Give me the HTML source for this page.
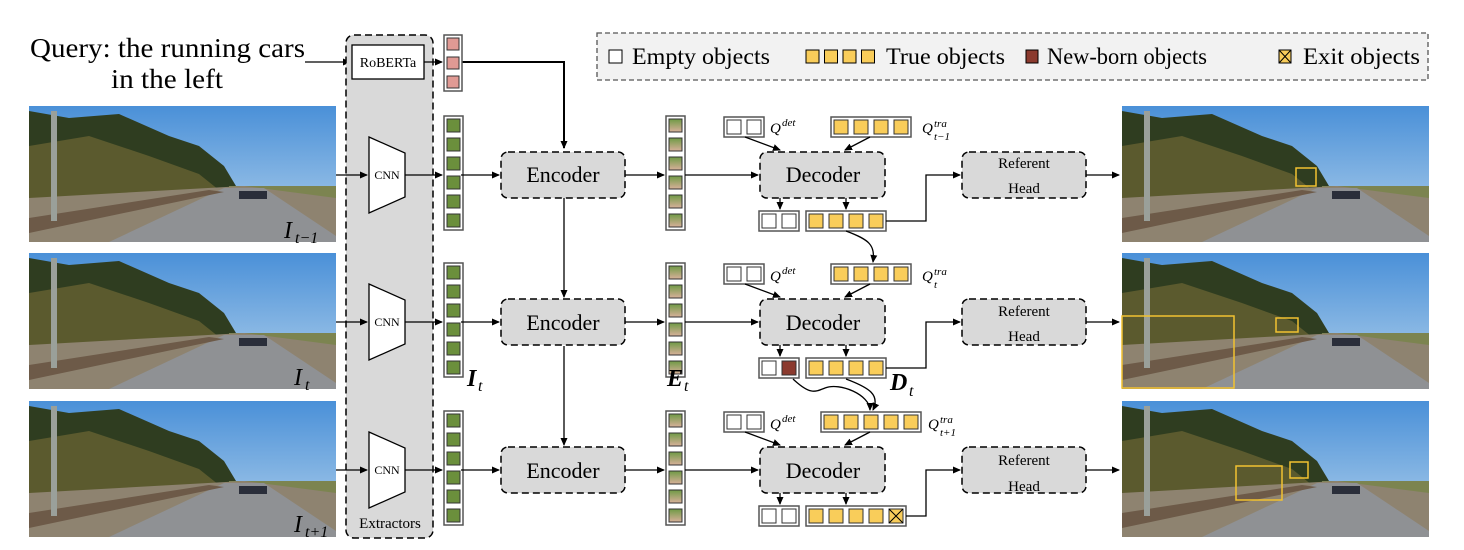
<!DOCTYPE html>
<html><head><meta charset="utf-8"><style>
html,body{margin:0;padding:0;background:#fff;}
svg{display:block;}
text{font-family:"Liberation Serif",serif;}
</style></head><body>
<svg id="s" width="1464" height="550" viewBox="0 0 1464 550" xmlns="http://www.w3.org/2000/svg">
<defs>
<marker id="ar" markerWidth="8" markerHeight="8" refX="7" refY="4" orient="auto" markerUnits="userSpaceOnUse"><path d="M0,0.5 L8,4 L0,7.5 z" fill="#000"/></marker>
<linearGradient id="sky" x1="0" y1="0" x2="0" y2="1"><stop offset="0" stop-color="#4a90d8"/><stop offset="1" stop-color="#b5d3ec"/></linearGradient>
<linearGradient id="eg" x1="0" y1="0" x2="0" y2="1"><stop offset="0" stop-color="#6f9a45"/><stop offset="1" stop-color="#d8b09a"/></linearGradient>
<symbol id="photo" viewBox="0 0 307 136" width="307" height="136">
<rect width="307" height="136" fill="url(#sky)"/>
<polygon points="0,5 40,12 90,8 140,30 170,40 195,60 210,85 0,100" fill="#2f3d20"/>
<polygon points="0,40 60,30 120,50 170,68 195,88 0,95" fill="#5b5a2e"/>
<rect x="200" y="80" width="107" height="56" fill="#7c8450"/>
<polygon points="0,92 215,80 307,92 307,136 0,136" fill="#8e8370"/>
<polygon points="80,136 195,82 235,82 307,130 307,136" fill="#8f9194"/>
<polygon points="0,112 180,84 195,86 0,127" fill="#6d5a48"/>
<rect x="210" y="85" width="28" height="8" fill="#2a2e3a"/>
<rect x="22" y="5" width="6" height="110" fill="#9aa09a"/>
</symbol>
</defs>

<text x="30" y="57" font-size="27" textLength="275" lengthAdjust="spacingAndGlyphs">Query: the running cars</text>
<text x="111" y="88" font-size="27" textLength="112" lengthAdjust="spacingAndGlyphs">in the left</text>
<line x1="305" y1="62" x2="350" y2="62" stroke="#000" stroke-width="1.3" marker-end="url(#ar)"/>

<rect x="346" y="35" width="87" height="503" rx="8" fill="#d9d9d9" stroke="#000" stroke-width="1.5" stroke-dasharray="7,4"/>
<rect x="352" y="45" width="72" height="34" fill="#fff" stroke="#000" stroke-width="1.3"/>
<text x="388" y="67" font-size="14" text-anchor="middle">RoBERTa</text>
<text x="390" y="528" font-size="15" text-anchor="middle">Extractors</text>
<line x1="424" y1="62" x2="442" y2="62" stroke="#000" stroke-width="1.3" marker-end="url(#ar)"/>
<path d="M461,62 H564 V148" fill="none" stroke="#000" stroke-width="2" marker-end="url(#ar)"/>

<rect x="597" y="33" width="831" height="47" fill="#f2f2f2" stroke="#555" stroke-width="1.3" stroke-dasharray="5,3"/>
<rect x="609" y="50" width="13" height="13" fill="#fff" stroke="#000"/>
<text x="632" y="64" font-size="23" textLength="138" lengthAdjust="spacingAndGlyphs">Empty objects</text>
<text x="886" y="64" font-size="23" textLength="119" lengthAdjust="spacingAndGlyphs">True objects</text>
<rect x="1026" y="50" width="12" height="13" fill="#8b3a2e" stroke="#000"/>
<text x="1047" y="64" font-size="23" textLength="160" lengthAdjust="spacingAndGlyphs">New-born objects</text>
<rect x="1279" y="50" width="12" height="13" fill="#f9cd5a" stroke="#000"/>
<path d="M1279,50 L1291,63 M1291,50 L1279,63" stroke="#000"/>
<text x="1303" y="64" font-size="23" textLength="117" lengthAdjust="spacingAndGlyphs">Exit objects</text>

<g id="dyn"></g>

<text x="284" y="238" font-size="24" font-style="italic">I</text><text x="295" y="243" font-size="16" font-style="italic">t−1</text>
<text x="294" y="385" font-size="24" font-style="italic">I</text><text x="305" y="390" font-size="16" font-style="italic">t</text>
<text x="294" y="532" font-size="24" font-style="italic">I</text><text x="305" y="537" font-size="16" font-style="italic">t+1</text>
<text x="467" y="386" font-size="24" font-weight="bold" font-style="italic">I</text><text x="478" y="391" font-size="16" font-style="italic">t</text>
<text x="667" y="386" font-size="24" font-weight="bold" font-style="italic">E</text><text x="684" y="391" font-size="16" font-style="italic">t</text>
<text x="890" y="390" font-size="24" font-weight="bold" font-style="italic">D</text><text x="909" y="396" font-size="16" font-style="italic">t</text>

<text x="770" y="133" font-size="15" font-style="italic">Q</text><text x="782" y="126" font-size="11" font-style="italic">det</text>
<text x="770" y="281" font-size="15" font-style="italic">Q</text><text x="782" y="274" font-size="11" font-style="italic">det</text>
<text x="770" y="429" font-size="15" font-style="italic">Q</text><text x="782" y="422" font-size="11" font-style="italic">det</text>
<text x="922" y="133" font-size="15" font-style="italic">Q</text><text x="934" y="127" font-size="11" font-style="italic">tra</text><text x="934" y="140" font-size="11" font-style="italic">t−1</text>
<text x="922" y="281" font-size="15" font-style="italic">Q</text><text x="934" y="275" font-size="11" font-style="italic">tra</text><text x="934" y="288" font-size="11" font-style="italic">t</text>
<text x="928" y="429" font-size="15" font-style="italic">Q</text><text x="940" y="423" font-size="11" font-style="italic">tra</text><text x="940" y="436" font-size="11" font-style="italic">t+1</text>

<text x="563" y="182" font-size="22" text-anchor="middle">Encoder</text>
<text x="563" y="330" font-size="22" text-anchor="middle">Encoder</text>
<text x="563" y="478" font-size="22" text-anchor="middle">Encoder</text>
<text x="823" y="182" font-size="22" text-anchor="middle">Decoder</text>
<text x="823" y="330" font-size="22" text-anchor="middle">Decoder</text>
<text x="823" y="478" font-size="22" text-anchor="middle">Decoder</text>
<text x="1024" y="168" font-size="15" text-anchor="middle">Referent</text><text x="1024" y="193" font-size="15" text-anchor="middle">Head</text>
<text x="1024" y="316" font-size="15" text-anchor="middle">Referent</text><text x="1024" y="341" font-size="15" text-anchor="middle">Head</text>
<text x="1024" y="465" font-size="15" text-anchor="middle">Referent</text><text x="1024" y="491" font-size="15" text-anchor="middle">Head</text>
<text x="387" y="179" font-size="12" text-anchor="middle">CNN</text>
<text x="387" y="326" font-size="12" text-anchor="middle">CNN</text>
<text x="387" y="474" font-size="12" text-anchor="middle">CNN</text>
</svg>
<script>
(function(){
var NS="http://www.w3.org/2000/svg",g=document.getElementById("dyn");
function el(t,a){var e=document.createElementNS(NS,t);for(var k in a)e.setAttribute(k,a[k]);g.appendChild(e);return e;}
function cells(x,y,n,fill,horiz,size,gap){
  size=size||13;gap=gap||6;
  var L=n*size+(n-1)*gap+6;
  el("rect",horiz?{x:x,y:y,width:L,height:size+6,fill:"#fff",stroke:"#555","stroke-width":1.5}:{x:x,y:y,width:size+6,height:L,fill:"#fff",stroke:"#555","stroke-width":1.5});
  for(var i=0;i<n;i++){
    var f=Array.isArray(fill)?fill[i]:fill;
    var cx=horiz?x+3+i*(size+gap):x+3,cy=horiz?y+3:y+3+i*(size+gap);
    el("rect",{x:cx,y:cy,width:size,height:size,fill:f,stroke:"#333","stroke-width":1});
  }
}
for(var i=0;i<4;i++) el("rect",{x:806+i*18.5,y:50,width:13,height:13,fill:"#f9cd5a",stroke:"#000"});
cells(444,35,3,"#e09a94",false,12,7);
var rows=[175,322,470];
rows.forEach(function(c,r){
  el("use",{href:"#photo",x:29,y:c-69,width:307,height:136});
  el("use",{href:"#photo",x:1121,y:c-69,width:309,height:136});
  el("line",{x1:336,y1:c,x2:367,y2:c,stroke:"#000","stroke-width":1.3,"marker-end":"url(#ar)"});
  el("polygon",{points:"369,"+(c-38)+" 405,"+(c-22)+" 405,"+(c+22)+" 369,"+(c+38),fill:"#fff",stroke:"#000","stroke-width":1.3});
  el("line",{x1:405,y1:c,x2:442,y2:c,stroke:"#000","stroke-width":1.3,"marker-end":"url(#ar)"});
  cells(444,c-59,6,"#6b8f3c",false,13,6);
  el("line",{x1:461,y1:c,x2:499,y2:c,stroke:"#000","stroke-width":1.3,"marker-end":"url(#ar)"});
  el("rect",{x:501,y:c-23,width:124,height:46,rx:7,fill:"#d9d9d9",stroke:"#000","stroke-width":1.5,"stroke-dasharray":"7,4"});
  el("line",{x1:625,y1:c,x2:664,y2:c,stroke:"#000","stroke-width":1.3,"marker-end":"url(#ar)"});
  cells(666,c-59,6,"url(#eg)",false,13,6);
  el("line",{x1:685,y1:c,x2:758,y2:c,stroke:"#000","stroke-width":1.3,"marker-end":"url(#ar)"});
  el("rect",{x:760,y:c-23,width:125,height:46,rx:7,fill:"#d9d9d9",stroke:"#000","stroke-width":1.5,"stroke-dasharray":"7,4"});
  el("rect",{x:962,y:c-23,width:124,height:46,rx:7,fill:"#d9d9d9",stroke:"#000","stroke-width":1.5,"stroke-dasharray":"7,4"});
  el("line",{x1:1086,y1:c,x2:1119,y2:c,stroke:"#000","stroke-width":1.3,"marker-end":"url(#ar)"});
  cells(724,c-58,2,"#fff",true,14,6);
  var n=r==2?5:4, tx=r==2?821:831;
  cells(tx,c-58,n,"#f9cd5a",true,14,6);
  el("line",{x1:745,y1:c-38,x2:780,y2:c-25,stroke:"#000","stroke-width":1.3,"marker-end":"url(#ar)"});
  el("line",{x1:870,y1:c-38,x2:845,y2:c-25,stroke:"#000","stroke-width":1.3,"marker-end":"url(#ar)"});
  el("line",{x1:780,y1:c+23,x2:780,y2:c+34,stroke:"#000","stroke-width":1.3,"marker-end":"url(#ar)"});
  el("line",{x1:846,y1:c+23,x2:846,y2:c+34,stroke:"#000","stroke-width":1.3,"marker-end":"url(#ar)"});
  cells(759,c+36,2,r==1?["#fff","#8b3a2e"]:"#fff",true,14,6);
  var on=r==2?5:4;
  cells(806,c+36,on,"#f9cd5a",true,14,6);
  var ex=806+6+on*14+(on-1)*6;
  el("path",{d:"M"+ex+","+(c+46)+" H926 V"+c+" H960",fill:"none",stroke:"#000","stroke-width":1.3,"marker-end":"url(#ar)"});
  if(r==2){el("path",{d:"M889,"+(c+39)+" L903,"+(c+53)+" M903,"+(c+39)+" L889,"+(c+53),stroke:"#000","stroke-width":1});}
});
el("line",{x1:564,y1:198,x2:564,y2:297,stroke:"#000","stroke-width":1.3,"marker-end":"url(#ar)"});
el("line",{x1:564,y1:346,x2:564,y2:445,stroke:"#000","stroke-width":1.3,"marker-end":"url(#ar)"});
el("path",{d:"M846,231 C870,240 875,245 873,262",fill:"none",stroke:"#000","stroke-width":1.3,"marker-end":"url(#ar)"});
el("path",{d:"M793,379 C810,395 815,392 825,388 C840,382 870,395 870,410",fill:"none",stroke:"#000","stroke-width":1.3,"marker-end":"url(#ar)"});
el("path",{d:"M846,379 C870,388 880,395 873,410",fill:"none",stroke:"#000","stroke-width":1.3,"marker-end":"url(#ar)"});
[[1296,168,20,18],[1122,316,112,72],[1276,318,22,14],[1236,466,46,34],[1290,462,18,16]].forEach(function(b){
  el("rect",{x:b[0],y:b[1],width:b[2],height:b[3],fill:"none",stroke:"#f2c230","stroke-width":1.5});
});
})();
</script>
</body></html>
